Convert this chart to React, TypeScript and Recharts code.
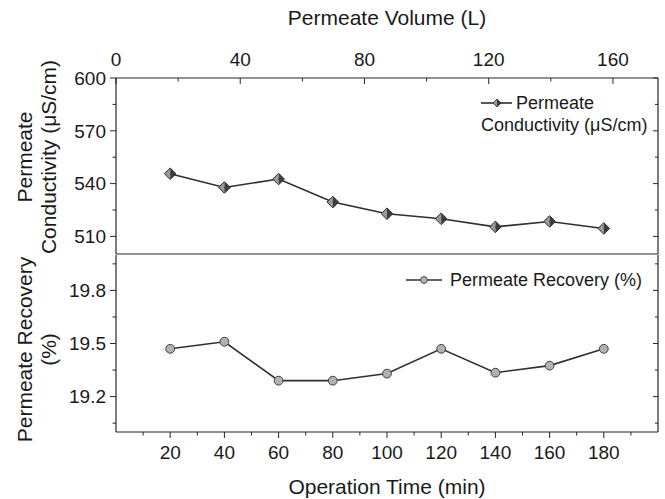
import React from 'react';
import { LineChart, Line, XAxis, YAxis, Legend, Label, ReferenceLine } from 'recharts';

const FONT = '"Liberation Sans", Arial, Helvetica, sans-serif';
const TEXT = '#1a1a1a';
const AXIS = '#262626';
const LINE = '#2b3035';

// ---- data ----
const timeMin = [20, 40, 60, 80, 100, 120, 140, 160, 180];
const conductivity = [545.6, 537.8, 542.6, 529.5, 522.9, 520.0, 515.4, 518.5, 514.5];
const recovery = [19.47, 19.51, 19.29, 19.29, 19.33, 19.47, 19.335, 19.375, 19.47];

// permeate volume collected per minute (top axis is a linked scale of the time axis)
const VOL_PER_MIN = 174.5 / 200;

// ---- ticks ----
const timeTicks = [10, 20, 30, 40, 50, 60, 70, 80, 90, 100, 110, 120, 130, 140, 150, 160, 170, 180, 190];
const timeLabels = [20, 40, 60, 80, 100, 120, 140, 160, 180];
const volTicks = [0, 20, 40, 60, 80, 100, 120, 140, 160];
const volLabels = [0, 40, 80, 120, 160];
const condTicks = [510, 525, 540, 555, 570, 585, 600];
const condLabels = [510, 540, 570, 600];
const recTicks = [19.05, 19.2, 19.35, 19.5, 19.65, 19.8, 19.95];
const recLabels = [19.2, 19.5, 19.8];

const topData = timeMin.map((t, i) => ({ time: t, cond: conductivity[i] }));
const bottomData = timeMin.map((t, i) => ({ time: t, rec: recovery[i] }));
const volTickTimes = volTicks.map((v) => v / VOL_PER_MIN);

const isIn = (v: number, arr: number[]) => arr.some((a) => Math.abs(a - v) < 1e-6);

const CHART_W = 665;
const MARGIN_R = 7;
const RIGHT_X = CHART_W - MARGIN_R;

const TICK_FS = 19;
const TITLE_FS = 21;
const LEGEND_FS = 18;

const makeBottomTick = (labels: number[]) => (props: any) => {
  const { x, y, payload } = props;
  const v = payload.value;
  const major = isIn(v, labels);
  return (
    <g>
      <line x1={x} x2={x} y1={y} y2={y + (major ? 6 : 3.5)} stroke={AXIS} strokeWidth={1} />
      {major && (
        <text x={x} y={y + 27} textAnchor="middle" fontSize={TICK_FS} fill={TEXT} fontFamily={FONT}>
          {v}
        </text>
      )}
    </g>
  );
};

const TopVolTick = (props: any) => {
  const { x, y, payload } = props;
  const vol = Math.round(payload.value * VOL_PER_MIN);
  const major = isIn(vol, volLabels);
  return (
    <g>
      <line x1={x} x2={x} y1={y} y2={y + (major ? 6 : 3.5)} stroke={AXIS} strokeWidth={1} />
      {major && (
        <text x={x} y={y - 12} textAnchor="middle" fontSize={TICK_FS} fill={TEXT} fontFamily={FONT}>
          {vol}
        </text>
      )}
    </g>
  );
};

const makeLeftTick = (labels: number[]) => (props: any) => {
  const { x, y, payload } = props;
  const v = payload.value;
  const major = isIn(v, labels);
  return (
    <g>
      <line x1={x - (major ? 6 : 3.5)} x2={x} y1={y} y2={y} stroke={AXIS} strokeWidth={1} />
      <line x1={RIGHT_X - (major ? 5 : 3)} x2={RIGHT_X} y1={y} y2={y} stroke={AXIS} strokeWidth={1} />
      {major && (
        <text x={x - 10} y={y} dy="0.36em" textAnchor="end" fontSize={TICK_FS} fill={TEXT} fontFamily={FONT}>
          {v}
        </text>
      )}
    </g>
  );
};

const Diamond = (props: any) => {
  const { cx, cy, index } = props;
  if (cx == null || cy == null) return <g key={`d${index}`} />;
  const s = 5.8;
  return (
    <g key={`d${index}`}>
      <polygon points={`${cx},${cy - s} ${cx},${cy + s} ${cx - s},${cy}`} fill="#9a9a9a" />
      <polygon points={`${cx},${cy - s} ${cx + s},${cy} ${cx},${cy + s}`} fill="#3d3d3d" />
      <polygon points={`${cx},${cy - s} ${cx + s},${cy} ${cx},${cy + s} ${cx - s},${cy}`} fill="none" stroke="#2a2a2a" strokeWidth={1} />
    </g>
  );
};

const Circle = (props: any) => {
  const { cx, cy, index } = props;
  if (cx == null || cy == null) return <g key={`c${index}`} />;
  return <circle key={`c${index}`} cx={cx} cy={cy} r={4.4} fill="#b2b2b2" stroke="#3f3f3f" strokeWidth={1} />;
};

const TopLegend = () => (
  <div style={{ fontFamily: FONT, fontSize: LEGEND_FS, color: TEXT, lineHeight: '22px', whiteSpace: 'nowrap' }}>
    <div style={{ display: 'flex', alignItems: 'center', height: 22 }}>
      <svg width={32} height={14} style={{ display: 'block' }}>
        <line x1={0} x2={31} y1={7} y2={7} stroke={LINE} strokeWidth={1.6} />
        <polygon points="16,3 16,11 12,7" fill="#9a9a9a" />
        <polygon points="16,3 20,7 16,11" fill="#3d3d3d" />
        <polygon points="16,3 20,7 16,11 12,7" fill="none" stroke="#2a2a2a" strokeWidth={0.8} />
      </svg>
      <span style={{ marginLeft: 3 }}>Permeate</span>
    </div>
    <div style={{ height: 22 }}>Conductivity (μS/cm)</div>
  </div>
);

const BottomLegend = () => (
  <div style={{ fontFamily: FONT, fontSize: LEGEND_FS, color: TEXT, lineHeight: '22px', whiteSpace: 'nowrap' }}>
    <div style={{ display: 'flex', alignItems: 'center', height: 22 }}>
      <svg width={36} height={14} style={{ display: 'block' }}>
        <line x1={0} x2={36} y1={7} y2={7} stroke={LINE} strokeWidth={1.6} />
        <circle cx={18} cy={7} r={3.4} fill="#b2b2b2" stroke="#3f3f3f" strokeWidth={0.9} />
      </svg>
      <span style={{ marginLeft: 8 }}>Permeate Recovery (%)</span>
    </div>
  </div>
);

const LeftTitle = (lines: string[], dyCenter: number) => (props: any) => {
  const vb = props.viewBox || {};
  const cy = vb.y + vb.height / 2 + dyCenter;
  const xs = [25, 49];
  return (
    <g>
      {lines.map((l, i) => (
        <text
          key={i}
          x={xs[i]}
          y={cy}
          dy="0.35em"
          textAnchor="middle"
          transform={`rotate(-90, ${xs[i]}, ${cy})`}
          fontSize={TITLE_FS}
          fill={TEXT}
          fontFamily={FONT}
        >
          {l}
        </text>
      ))}
    </g>
  );
};

const TopTitle = (props: any) => {
  const vb = props.viewBox || {};
  return (
    <text x={vb.x + vb.width / 2} y={25} textAnchor="middle" fontSize={TITLE_FS} fill={TEXT} fontFamily={FONT}>
      Permeate Volume (L)
    </text>
  );
};

const BottomTitle = (props: any) => {
  const vb = props.viewBox || {};
  return (
    <text x={vb.x + vb.width / 2} y={vb.y + 62} textAnchor="middle" fontSize={TITLE_FS} fill={TEXT} fontFamily={FONT}>
      Operation Time (min)
    </text>
  );
};

const axisLine = { stroke: AXIS, strokeWidth: 1.2 };

export default function App() {
  return (
    <div style={{ position: 'absolute', left: 0, top: 0, width: 665, height: 499, background: '#fff' }}>
      <div style={{ position: 'absolute', left: 0, top: 0 }}>
        <LineChart width={CHART_W} height={256} data={topData} margin={{ top: 0, right: MARGIN_R, bottom: 0, left: 0 }}>
          <XAxis
            xAxisId="top"
            dataKey="time"
            orientation="top"
            type="number"
            domain={[0, 200]}
            allowDataOverflow
            ticks={volTickTimes}
            interval={0}
            height={78}
            tickSize={0}
            tickMargin={0}
            tickLine={false}
            axisLine={axisLine}
            tick={TopVolTick}
          >
            <Label content={TopTitle} />
          </XAxis>
          <XAxis
            xAxisId="frame"
            type="number"
            domain={[0, 200]}
            allowDataOverflow
            height={2}
            tick={false}
            tickLine={false}
            axisLine={axisLine}
          />
          <YAxis
            yAxisId="c"
            type="number"
            domain={[500, 600]}
            allowDataOverflow
            ticks={condTicks}
            interval={0}
            width={116}
            tickSize={0}
            tickMargin={0}
            tickLine={false}
            axisLine={axisLine}
            tick={makeLeftTick(condLabels)}
          >
            <Label content={LeftTitle(['Permeate', 'Conductivity (μS/cm)'], -9)} />
          </YAxis>
          <ReferenceLine xAxisId="top" yAxisId="c" x={200} stroke={AXIS} strokeWidth={1.2} />
          <Line
            xAxisId="top"
            yAxisId="c"
            dataKey="cond"
            stroke={LINE}
            strokeWidth={1.6}
            dot={Diamond}
            activeDot={false}
            isAnimationActive={false}
          />
          <Legend
            layout="horizontal"
            verticalAlign="middle"
            align="center"
            content={TopLegend}
            wrapperStyle={{ position: 'absolute', left: 481, top: 92, width: 'auto', height: 'auto' }}
          />
        </LineChart>
      </div>
      <div style={{ position: 'absolute', left: 0, top: 254 }}>
        <LineChart width={CHART_W} height={245} data={bottomData} margin={{ top: 0, right: MARGIN_R, bottom: 0, left: 0 }}>
          <XAxis
            xAxisId="t2"
            orientation="top"
            type="number"
            domain={[0, 200]}
            allowDataOverflow
            height={1}
            tick={false}
            tickLine={false}
            axisLine={false}
          />
          <XAxis
            xAxisId="time"
            dataKey="time"
            type="number"
            domain={[0, 200]}
            allowDataOverflow
            ticks={timeTicks}
            interval={0}
            height={67}
            tickSize={0}
            tickMargin={0}
            tickLine={false}
            axisLine={axisLine}
            tick={makeBottomTick(timeLabels)}
          >
            <Label content={BottomTitle} />
          </XAxis>
          <YAxis
            yAxisId="r"
            type="number"
            domain={[19.0, 20.0]}
            allowDataOverflow
            ticks={recTicks}
            interval={0}
            width={116}
            tickSize={0}
            tickMargin={0}
            tickLine={false}
            axisLine={axisLine}
            tick={makeLeftTick(recLabels)}
          >
            <Label content={LeftTitle(['Permeate Recovery', '(%)'], 6)} />
          </YAxis>
          <ReferenceLine xAxisId="time" yAxisId="r" x={200} stroke={AXIS} strokeWidth={1.2} />
          <Line
            xAxisId="time"
            yAxisId="r"
            dataKey="rec"
            stroke={LINE}
            strokeWidth={1.6}
            dot={Circle}
            activeDot={false}
            isAnimationActive={false}
          />
          <Legend
            layout="horizontal"
            verticalAlign="middle"
            align="center"
            content={BottomLegend}
            wrapperStyle={{ position: 'absolute', left: 406, top: 15, width: 'auto', height: 'auto' }}
          />
        </LineChart>
      </div>
    </div>
  );
}
